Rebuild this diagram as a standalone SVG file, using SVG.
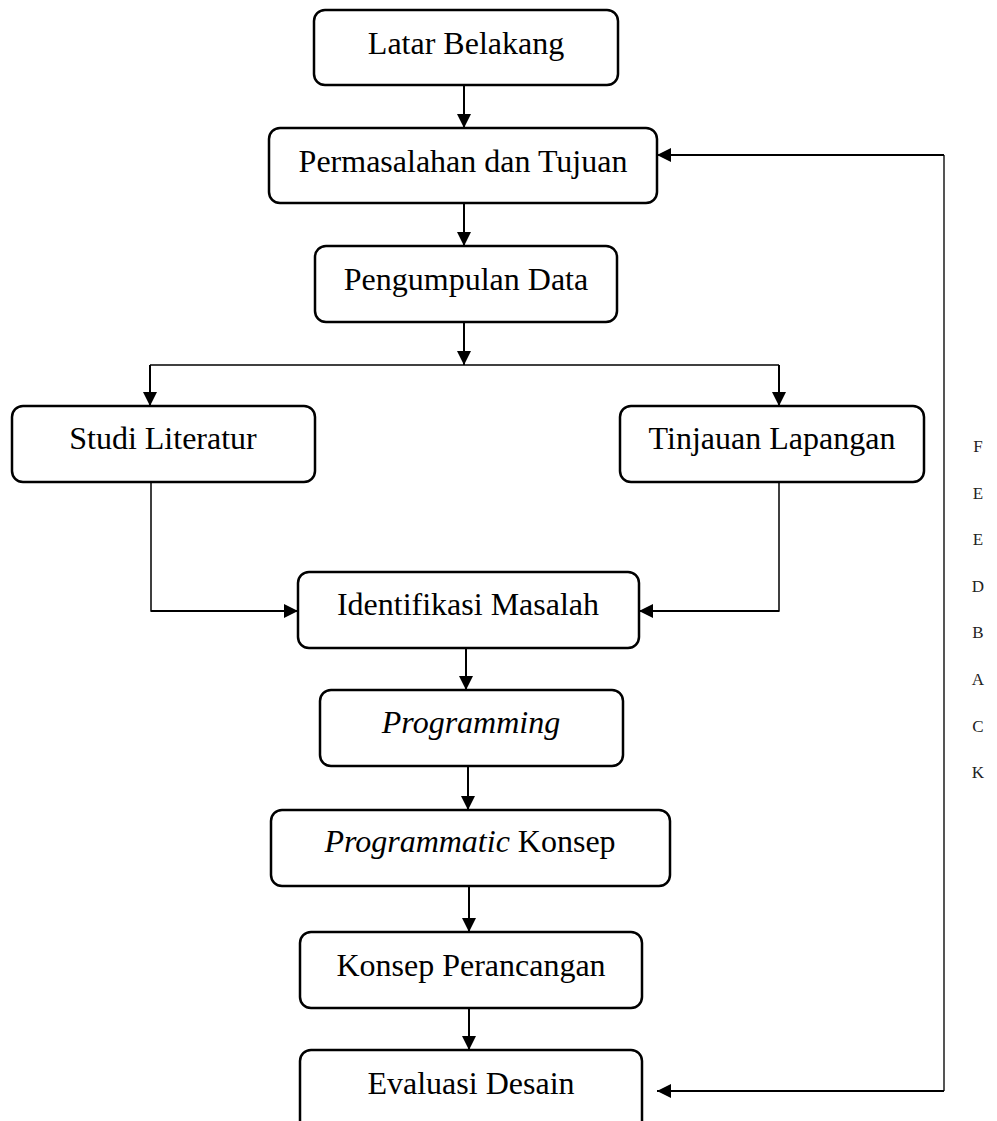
<svg xmlns="http://www.w3.org/2000/svg" width="997" height="1121" viewBox="0 0 997 1121">
<style>
.box{fill:#fff;stroke:#000;stroke-width:2.5}
.t{font-family:"Liberation Serif","Times New Roman",serif;font-size:32px;fill:#000;text-anchor:middle}
.it{font-style:italic}
.c{fill:none;stroke:#000;stroke-width:2}
.thin{fill:none;stroke:#000;stroke-width:1.5}
.fb{fill:none;stroke:#555;stroke-width:2}
.l{font-family:"Liberation Serif","Times New Roman",serif;font-size:17px;fill:#222;text-anchor:middle}
</style>
<defs>
<marker id="ah" viewBox="0 0 14 14" refX="14" refY="7" markerWidth="14" markerHeight="14" markerUnits="userSpaceOnUse" orient="auto">
<path d="M0,0 L14,7 L0,14 Z" fill="#000"/>
</marker>
</defs>
<rect width="997" height="1121" fill="#fff"/>
<g id="connectors">
<line class="c" x1="464" y1="85" x2="464" y2="128" marker-end="url(#ah)"/>
<line class="c" x1="464" y1="203" x2="464" y2="246" marker-end="url(#ah)"/>
<line class="c" x1="464" y1="322" x2="464" y2="365" marker-end="url(#ah)"/>
<line class="thin" x1="150" y1="365" x2="779" y2="365"/>
<line class="c" x1="150" y1="365" x2="150" y2="406" marker-end="url(#ah)"/>
<line class="c" x1="779" y1="365" x2="779" y2="406" marker-end="url(#ah)"/>
<polyline class="thin" points="151,482 151,611 200,611"/>
<line class="c" x1="151" y1="611" x2="298" y2="611" marker-end="url(#ah)"/>
<polyline class="thin" points="779,482 779,611 740,611"/>
<line class="c" x1="779" y1="611" x2="639" y2="611" marker-end="url(#ah)"/>
<line class="c" x1="466" y1="648" x2="466" y2="690" marker-end="url(#ah)"/>
<line class="c" x1="468" y1="766" x2="468" y2="810" marker-end="url(#ah)"/>
<line class="c" x1="469" y1="886" x2="469" y2="932" marker-end="url(#ah)"/>
<line class="c" x1="469" y1="1008" x2="469" y2="1050" marker-end="url(#ah)"/>
<line class="fb" x1="944" y1="155" x2="944" y2="1091"/>
<line class="c" x1="944" y1="155" x2="657" y2="155" marker-end="url(#ah)"/>
<line class="c" x1="944" y1="1091" x2="657" y2="1091" marker-end="url(#ah)"/>
</g>
<g id="latar-belakang">
<rect class="box" x="314" y="10" width="304" height="75" rx="11"/>
<text class="t" x="466" y="54">Latar Belakang</text>
</g>
<g id="permasalahan">
<rect class="box" x="269" y="128" width="388" height="75" rx="11"/>
<text class="t" x="463" y="172">Permasalahan dan Tujuan</text>
</g>
<g id="pengumpulan">
<rect class="box" x="315" y="246" width="302" height="76" rx="11"/>
<text class="t" x="466" y="290">Pengumpulan Data</text>
</g>
<g id="studi-literatur">
<rect class="box" x="12" y="406" width="303" height="76" rx="11"/>
<text class="t" x="163" y="449">Studi Literatur</text>
</g>
<g id="tinjauan-lapangan">
<rect class="box" x="620" y="406" width="304" height="76" rx="11"/>
<text class="t" x="772" y="449">Tinjauan Lapangan</text>
</g>
<g id="identifikasi">
<rect class="box" x="298" y="572" width="341" height="76" rx="11"/>
<text class="t" x="468" y="615">Identifikasi Masalah</text>
</g>
<g id="programming">
<rect class="box" x="320" y="690" width="303" height="76" rx="11"/>
<text class="t it" x="471" y="733">Programming</text>
</g>
<g id="programmatic-konsep">
<rect class="box" x="271" y="810" width="399" height="76" rx="11"/>
<text class="t" x="470" y="852"><tspan class="it">Programmatic</tspan> Konsep</text>
</g>
<g id="konsep-perancangan">
<rect class="box" x="300" y="932" width="342" height="76" rx="11"/>
<text class="t" x="471" y="976">Konsep Perancangan</text>
</g>
<g id="evaluasi-desain">
<rect class="box" x="300" y="1050" width="342" height="90" rx="11"/>
<text class="t" x="471" y="1094">Evaluasi Desain</text>
</g>
<g id="letters">
<text class="l" x="978" y="452">F</text>
<text class="l" x="978" y="498.6">E</text>
<text class="l" x="978" y="545.2">E</text>
<text class="l" x="978" y="591.8">D</text>
<text class="l" x="978" y="638.4">B</text>
<text class="l" x="978" y="685">A</text>
<text class="l" x="978" y="731.6">C</text>
<text class="l" x="978" y="778.2">K</text>
</g>
</svg>
